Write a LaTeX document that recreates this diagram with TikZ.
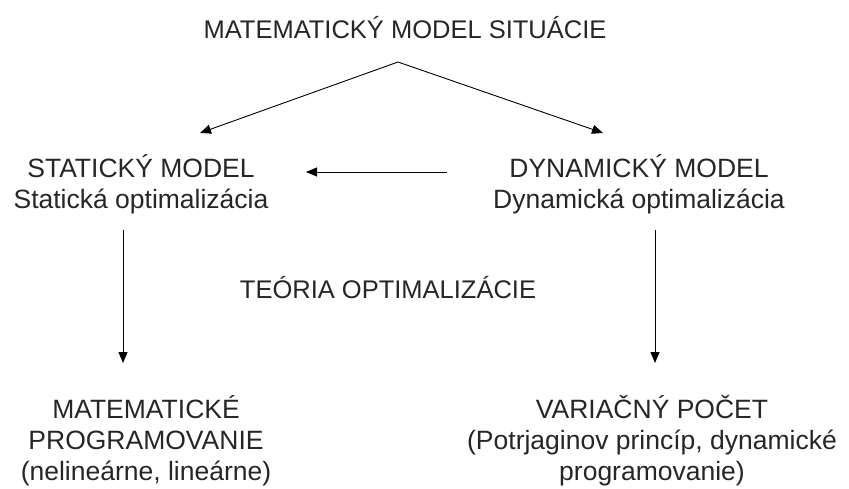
\documentclass[tikz,border=0pt]{standalone}
\usepackage{fontspec}
\setmainfont{Liberation Sans}
\usetikzlibrary{arrows.meta}
\tikzset{
  lbl/.style={align=center, inner sep=0pt, font=\fontsize{26.5}{31}\selectfont, text=black!85},
  caps/.style={lbl, font=\fontsize{25.5}{31}\selectfont},
  arr/.style={-{Triangle[length=11pt,width=9pt]}, line width=0.9pt}
}
\begin{document}
\begin{tikzpicture}[x=1pt,y=-1pt]
\useasboundingbox (0,0) rectangle (849,489);
\node[caps] (title) at (405,28) {MATEMATICKÝ MODEL SITUÁCIE};
\node[lbl] (stat) at (141,184) {STATICKÝ MODEL\\Statická optimalizácia};
\node[lbl] (dyn) at (639,184) {DYNAMICKÝ MODEL\\Dynamická optimalizácia};
\node[caps] (teo) at (388,288) {TEÓRIA OPTIMALIZÁCIE};
\node[lbl] (mp) at (146,441) {MATEMATICKÉ\\PROGRAMOVANIE\\(nelineárne, lineárne)};
\node[lbl] (vp) at (652,441) {VARIAČNÝ POČET\\(Potrjaginov princíp, dynamické\\programovanie)};
\coordinate (apex) at (398,62);
\coordinate (tl) at (200,133);
\coordinate (tr) at (603,133);
\coordinate (hs) at (447,172);
\coordinate (he) at (306,172);
\coordinate (ls) at (123,230);
\coordinate (le) at (123,363);
\coordinate (rs) at (655,230);
\coordinate (re) at (655,363);
\draw[arr] (apex) -- (tl);
\draw[arr] (apex) -- (tr);
\draw[arr] (hs) -- (he);
\draw[arr] (ls) -- (le);
\draw[arr] (rs) -- (re);
\end{tikzpicture}
\end{document}
